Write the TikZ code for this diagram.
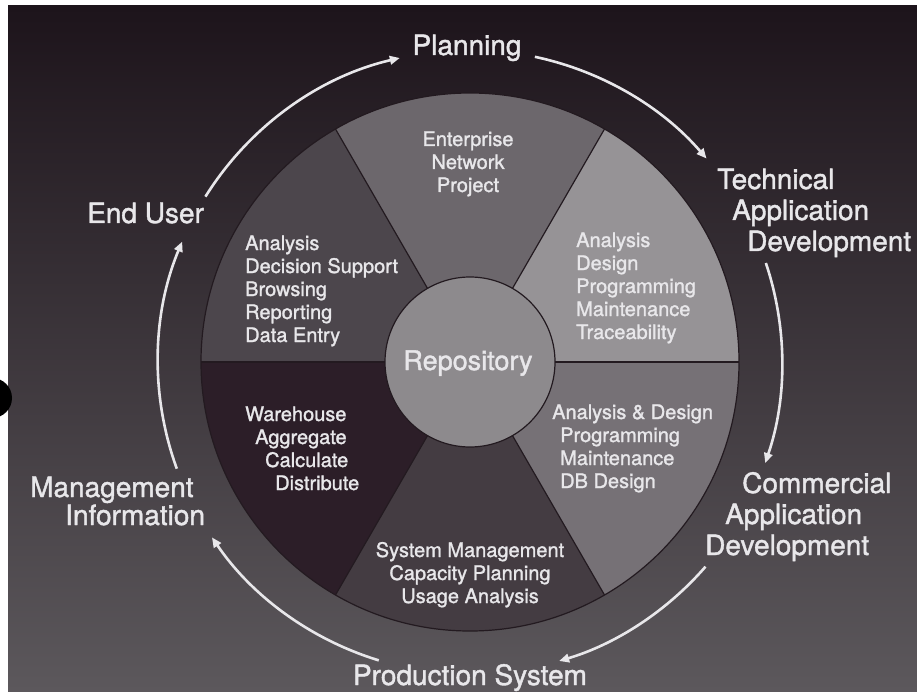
\documentclass[tikz,border=0pt]{standalone}
\usepackage{fontspec}
\setmainfont{TeX Gyre Heros}[FakeBold=1.4]
\usetikzlibrary{arrows.meta}
\definecolor{bgtop}{RGB}{29,20,27}
\definecolor{bgmid}{RGB}{50,43,49}
\definecolor{bgbot}{RGB}{92,88,92}
\definecolor{txt}{RGB}{232,231,234}
\definecolor{rim}{RGB}{35,26,32}
\definecolor{secnet}{RGB}{108,103,108}
\definecolor{sectech}{RGB}{150,147,150}
\definecolor{seccomm}{RGB}{118,113,118}
\definecolor{secprod}{RGB}{68,60,66}
\definecolor{secmgmt}{RGB}{44,30,40}
\definecolor{secuser}{RGB}{76,70,76}
\definecolor{repofill}{RGB}{141,138,141}
\def\rout{269}
\def\rin{85}
\def\rflow{312}

\begin{document}
\begin{tikzpicture}[x=1pt,y=1pt]
\tikzstyle{every node}+=[inner sep=0pt, text=txt]
\tikzstyle{outer}=[font=\fontsize{28}{31}\selectfont, align=left, anchor=base west]
\tikzstyle{inner}=[font=\fontsize{20}{23}\selectfont, align=left, anchor=base west]
\tikzstyle{edge}=[draw=rim, line width=1.2pt]
\tikzstyle{flow}=[draw=txt, line width=2.6pt, -{Triangle[length=10pt,width=8.5pt]}]
\useasboundingbox (0,0) rectangle (917,-692);
\fill [white] (0,0) rectangle (917,-692);
\shade [top color=bgtop, middle color=bgmid, bottom color=bgbot] (8,-6) rectangle (917,-692);
\fill [black] (-8,-398) circle (20);
\coordinate (c) at (470,-362);
% the six sectors
\fill [secnet] (c) -- ++(60:\rout) arc (60:120:\rout) -- cycle;
\fill [secuser] (c) -- ++(120:\rout) arc (120:180:\rout) -- cycle;
\fill [secmgmt] (c) -- ++(180:\rout) arc (180:240:\rout) -- cycle;
\fill [secprod] (c) -- ++(240:\rout) arc (240:300:\rout) -- cycle;
\fill [seccomm] (c) -- ++(300:\rout) arc (300:360:\rout) -- cycle;
\fill [sectech] (c) -- ++(0:\rout) arc (0:60:\rout) -- cycle;
\draw [edge] (c) -- ++(0:\rout);
\draw [edge] (c) -- ++(60:\rout);
\draw [edge] (c) -- ++(120:\rout);
\draw [edge] (c) -- ++(180:\rout);
\draw [edge] (c) -- ++(240:\rout);
\draw [edge] (c) -- ++(300:\rout);
\draw [edge] (c) circle (\rout);
\draw [edge, fill=repofill] (c) circle (\rin);
% texts inside (base = last line)
\draw (468,-370) node [font=\fontsize{27}{30}\selectfont, anchor=base] (repo) {Repository};
\draw (468,-192) node [inner, align=center, anchor=base] (net) {Enterprise\\Network\\Project};
\draw (576,-339) node [inner] (techjobs) {Analysis\\Design\\Programming\\Maintenance\\Traceability};
\draw (552,-488) node [inner] (commjobs) {Analysis \& Design\\\hspace*{8pt}Programming\\\hspace*{8pt}Maintenance\\\hspace*{8pt}DB Design};
\draw (470,-603) node [inner, align=center, anchor=base] (prodjobs) {System Management\\Capacity Planning\\Usage Analysis};
\draw (245,-490) node [inner] (mgmtjobs) {Warehouse\\\hspace*{10pt}Aggregate\\\hspace*{20pt}Calculate\\\hspace*{30pt}Distribute};
\draw (245,-342) node [inner] (userjobs) {Analysis\\Decision Support\\Browsing\\Reporting\\Data Entry};
% texts outside
\draw (467,-55) node [outer, anchor=base] (plan) {Planning};
\draw (717,-251) node [outer] (tech) {Technical\\\hspace*{15pt}Application\\\hspace*{30pt}Development};
\draw (705,-555) node [outer] (comm) {\hspace*{37pt}Commercial\\\hspace*{20pt}Application\\Development};
\draw (470,-685) node [outer, anchor=base] (prod) {Production System};
\draw (30,-525) node [outer, font=\fontsize{28}{28}\selectfont] (mgmt) {Management\\\hspace*{35pt}Information};
\draw (87,-223) node [outer] (user) {End User};
% arrows round the wheel
\path (c) ++(148:\rflow) coordinate (f1);
\path (c) ++(78:\rflow) coordinate (f2);
\path (c) ++(18.5:\rflow) coordinate (f3);
\path (c) ++(-41:\rflow) coordinate (f4);
\path (c) ++(-107:\rflow) coordinate (f5);
\path (c) ++(-160:\rflow) coordinate (f6);
\draw [flow] (f1) arc (148:103:\rflow);
\draw [flow] (f2) arc (78:40.7:\rflow);
\draw [flow] (f3) arc (18.5:-18.9:\rflow);
\draw [flow] (f4) arc (-41:-73.4:\rflow);
\draw [flow] (f5) arc (-107:-145.8:\rflow);
\draw [flow] (f6) arc (-160:-202.7:\rflow);
\end{tikzpicture}
\end{document}
